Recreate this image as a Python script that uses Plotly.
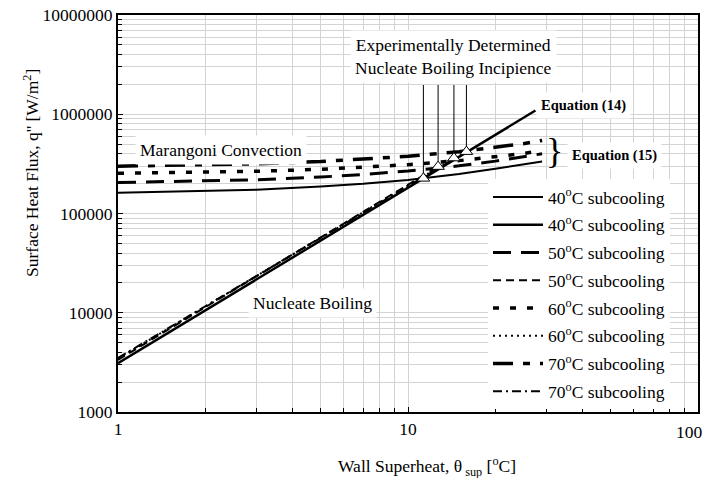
import plotly.graph_objects as go

# ---------------- data ----------------
theta_m = [1, 2, 3, 5, 7, 10, 15, 20, 25, 29]          # wall superheat for Marangoni curves (Eq. 15)
q_m40 = [162000, 168000, 174000, 187000, 199000, 218000, 250000, 282000, 312000, 335000]
q_m50 = [205000, 212000, 219000, 233000, 247000, 268000, 302000, 337000, 372000, 400000]
q_m60 = [254000, 260000, 266000, 279000, 291000, 310000, 341000, 371000, 402000, 430000]
q_m70 = [300000, 308000, 317000, 334000, 351000, 377000, 420000, 462000, 505000, 545000]

# nucleate boiling lines (Eq. 14), straight on log-log
theta_n40 = [1, 11.3]
q_n40 = [3100, 226000]
theta_n50 = [1, 12.7]
q_n50 = [3350, 297000]
theta_n60 = [1, 14.4]
q_n60 = [3450, 362000]
theta_n70 = [1, 15.9]
q_n70 = [3500, 420000]

# Equation (14) continuation to its label
theta_eq14 = [11.3, 27.5]
q_eq14 = [226000, 1090000]

# experimentally determined nucleate boiling incipience
incip_x = [11.3, 12.7, 14.4, 15.9]
incip_y = [226000, 297000, 362000, 420000]
incip_top = 1970000

x_tickvals = [1, 10, 100]
x_ticktext = ["1", "10", "100"]
y_tickvals = [1e3, 1e4, 1e5, 1e6, 1e7]
y_ticktext = ["1000", "10000", "100000", "1000000", "10000000"]

labels = ["40<sup>o</sup>C subcooling", "40<sup>o</sup>C subcooling",
          "50<sup>o</sup>C subcooling", "50<sup>o</sup>C subcooling",
          "60<sup>o</sup>C subcooling", "60<sup>o</sup>C subcooling",
          "70<sup>o</sup>C subcooling", "70<sup>o</sup>C subcooling"]

FONT = "Liberation Serif, Times New Roman, serif"
fig = go.Figure()

series = [
    (theta_m, q_m40, labels[0], 2, "solid"),
    (theta_n40, q_n40, labels[1], 2.5, "solid"),
    (theta_m, q_m50, labels[2], 3, "18px,10px"),
    (theta_n50, q_n50, labels[3], 2, "8px,5px"),
    (theta_m, q_m60, labels[4], 3.5, "6px,11px"),
    (theta_n60, q_n60, labels[5], 2, "2px,4px"),
    (theta_m, q_m70, labels[6], 3.5, "20px,10px,7px,10px"),
    (theta_n70, q_n70, labels[7], 2, "9px,4px,2px,4px"),
]
for i, (xs, ys, name, w, dash) in enumerate(series):
    fig.add_trace(go.Scatter(x=xs, y=ys, mode="lines", name=name,
                             legendgroup=f"g{i}",
                             line=dict(color="black", width=w, dash=dash)))

fig.add_trace(go.Scatter(x=theta_eq14, y=q_eq14, mode="lines", showlegend=False,
                         line=dict(color="black", width=2.5)))

# leader lines from the label down to each incipience marker
lx, ly = [], []
for xv, yv in zip(incip_x, incip_y):
    lx += [xv, xv, None]
    ly += [yv * 1.12, incip_top, None]
fig.add_trace(go.Scatter(x=lx, y=ly, mode="lines", showlegend=False,
                         line=dict(color="black", width=1)))
fig.add_trace(go.Scatter(x=incip_x, y=incip_y, mode="markers", showlegend=False,
                         marker=dict(symbol="triangle-up", size=11, color="white",
                                     line=dict(color="black", width=1))))

grid = "#d3d3d3"
minor_x = [2, 3, 4, 5, 6, 7, 8, 9, 20, 30, 40, 50, 60, 70, 80, 90]
minor_y = [m * 10 ** e for e in range(3, 7) for m in range(2, 10)]

# the last x label sits at the page edge; it is drawn as an annotation shifted inside
fig.update_xaxes(type="log", range=[0, 2], tickvals=x_tickvals,
                 ticktext=x_ticktext[:-1] + [""],
                 showline=True, linecolor="black", linewidth=2, mirror=True,
                 ticks="inside", ticklen=5, tickcolor="black",
                 automargin=False,
                 showgrid=True, gridcolor=grid, gridwidth=1, zeroline=False,
                 minor=dict(tickvals=minor_x, showgrid=True, gridcolor=grid, gridwidth=1,
                            ticks="inside", ticklen=4, tickcolor="black"),
                 tickfont=dict(family=FONT, size=17.5, color="black"))
fig.update_yaxes(type="log", range=[3, 7],
                 tickvals=y_tickvals, ticktext=y_ticktext,
                 showline=True, linecolor="black", linewidth=2, mirror=True,
                 ticks="inside", ticklen=5, tickcolor="black",
                 automargin=False,
                 showgrid=True, gridcolor=grid, gridwidth=1, zeroline=False,
                 minor=dict(tickvals=minor_y, showgrid=True, gridcolor=grid, gridwidth=1,
                            ticks="inside", ticklen=4, tickcolor="black"),
                 tickfont=dict(family=FONT, size=17.5, color="black"))


def px(xp):
    return (xp - 118) / 580


def py(yp):
    return (412 - yp) / 397


ann = [
    dict(text="Experimentally Determined<br>Nucleate Boiling Incipience", x=453, y=56, size=17.5),
    dict(text="Marangoni Convection", x=221, y=150, size=17.5),
    dict(text="Nucleate Boiling", x=312, y=303, size=17.5),
    dict(text="<b>Equation (14)</b>", x=583.5, y=105, size=14.5),
    dict(text="<b>Equation (15)</b>", x=614, y=155, size=14.5),
]
for a in ann:
    fig.add_annotation(text=a["text"], x=px(a["x"]), y=py(a["y"]), xref="paper", yref="paper",
                       xanchor="center", yanchor="middle",
                       showarrow=False, bgcolor="white", borderpad=4,
                       font=dict(family=FONT, size=a["size"], color="black"))
fig.add_annotation(text=x_ticktext[-1], x=px(705), y=py(432), xref="paper", yref="paper",
                   xanchor="right", yanchor="middle", showarrow=False,
                   font=dict(family=FONT, size=17.5, color="black"))
fig.add_annotation(text="}", x=px(554), y=py(151), xref="paper", yref="paper",
                   xanchor="center", yanchor="middle",
                   showarrow=False, font=dict(family=FONT, size=36, color="black"))
fig.add_annotation(text="Surface Heat Flux, q'' [W/m<sup>2</sup>]", textangle=-90,
                   x=px(31), y=py(173), xref="paper", yref="paper",
                   xanchor="center", yanchor="middle",
                   showarrow=False, font=dict(family=FONT, size=17.5, color="black"))
fig.add_annotation(text="Wall Superheat, θ<sub> sup</sub> [<sup>o</sup>C]",
                   x=px(427), y=py(466), xref="paper", yref="paper",
                   xanchor="center", yanchor="middle",
                   showarrow=False, font=dict(family=FONT, size=17.5, color="black"))

fig.update_layout(
    width=706, height=478,
    margin=dict(l=118, r=8, t=15, b=66, autoexpand=False),
    paper_bgcolor="white", plot_bgcolor="white",
    showlegend=True,
    legend=dict(x=px(488), y=py(179), xanchor="left", yanchor="top",
                bgcolor="white", borderwidth=0, tracegroupgap=2, itemwidth=50,
                font=dict(family=FONT, size=17.5, color="black")),
)

fig.write_html("out.html")
